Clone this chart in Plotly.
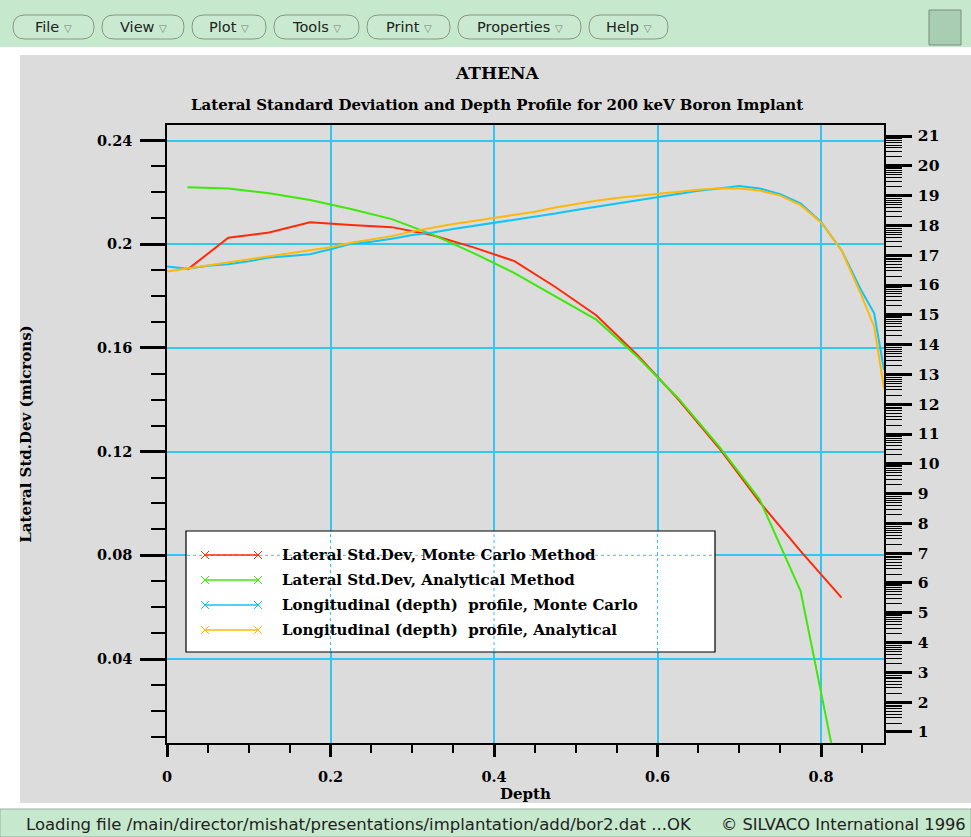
import math
import plotly.graph_objects as go

# ---------------- data ----------------
depth_lateral = [0.025, 0.075, 0.125, 0.175, 0.225, 0.275, 0.325, 0.375, 0.425,
                 0.475, 0.525, 0.575, 0.625, 0.675, 0.725, 0.775, 0.825]
lateral_mc = [0.1902, 0.2025, 0.2045, 0.2085, 0.2074, 0.2066, 0.2035, 0.1988, 0.1935,
              0.1835, 0.1726, 0.1574, 0.1403, 0.1215, 0.1005, 0.0816, 0.0637]
lateral_an = [0.2220, 0.2215, 0.2197, 0.2171, 0.2136, 0.2097, 0.2037, 0.1966, 0.1889,
              0.1800, 0.1709, 0.1567, 0.1407, 0.1221, 0.1015, 0.0662, -0.012]

depth_long = [0.0, 0.025, 0.05, 0.075, 0.1, 0.125, 0.15, 0.175, 0.2, 0.225, 0.25,
              0.275, 0.3, 0.325, 0.35, 0.375, 0.4, 0.425, 0.45, 0.475, 0.5, 0.525,
              0.55, 0.575, 0.6, 0.625, 0.65, 0.675, 0.7, 0.725, 0.75, 0.775, 0.8,
              0.825, 0.85, 0.865, 0.877]
long_mc = [16.62, 16.55, 16.65, 16.70, 16.80, 16.92, 16.97, 17.03, 17.20, 17.38, 17.45,
           17.55, 17.68, 17.76, 17.88, 17.98, 18.08, 18.20, 18.30, 18.40, 18.52, 18.63,
           18.73, 18.83, 18.95, 19.07, 19.16, 19.24, 19.32, 19.24, 19.05, 18.74, 18.12,
           17.17, 15.78, 15.05, 13.15]
long_an = [16.45, 16.55, 16.65, 16.77, 16.87, 16.96, 17.06, 17.17, 17.27, 17.42, 17.53,
           17.64, 17.80, 17.93, 18.05, 18.15, 18.25, 18.35, 18.46, 18.60, 18.72, 18.83,
           18.92, 18.99, 19.07, 19.14, 19.20, 19.25, 19.24, 19.17, 19.00, 18.68, 18.10,
           17.17, 15.61, 14.60, 12.53]

series_names = ["Lateral Std.Dev, Monte Carlo Method",
                "Lateral Std.Dev, Analytical Method",
                "Longitudinal (depth)  profile, Monte Carlo",
                "Longitudinal (depth)  profile, Analytical"]
series_colors = ["#ff2a0a", "#3ee80a", "#10c4f4", "#ffb80a"]

x_range = [0, 0.877]
x_ticks = [0, 0.2, 0.4, 0.6, 0.8]
x_ticktext = ["0", "0.2", "0.4", "0.6", "0.8"]
left_range = [0.0076, 0.246]
left_ticks = [0.04, 0.08, 0.12, 0.16, 0.2, 0.24]
left_ticktext = ["0.04", "0.08", "0.12", "0.16", "0.2", "0.24"]
right_range = [0.63, 21.37]
right_major = list(range(1, 22))
right_minor = [n + math.log10(k) for n in range(1, 21) for k in range(2, 10)]

# ---------------- geometry helpers (pixels -> paper) ----------------
W, H = 971, 837
L, R, T, B = 167, 884, 125, 743
def PX(px):
    return (px - L) / (R - L)
def PY(py):
    return (B - py) / (B - T)

SERIF = "DejaVu Serif"
SANS = "DejaVu Sans"
GRID = "#33c6f4"

fig = go.Figure()
fig.add_trace(go.Scatter(x=depth_lateral, y=lateral_mc, mode="lines", name=series_names[0],
                         line=dict(color=series_colors[0], width=2), yaxis="y"))
fig.add_trace(go.Scatter(x=depth_lateral, y=lateral_an, mode="lines", name=series_names[1],
                         line=dict(color=series_colors[1], width=2), yaxis="y"))
fig.add_trace(go.Scatter(x=depth_long, y=long_mc, mode="lines", name=series_names[2],
                         line=dict(color=series_colors[2], width=2), yaxis="y2"))
fig.add_trace(go.Scatter(x=depth_long, y=long_an, mode="lines", name=series_names[3],
                         line=dict(color=series_colors[3], width=2), yaxis="y2"))

tickfont = dict(family=SERIF, size=14.5, color="black", weight="bold")

shapes = []
annotations = []

# background panels
shapes.append(dict(type="rect", xref="paper", yref="paper", x0=PX(0), x1=PX(W), y0=PY(0), y1=PY(47),
                   fillcolor="#c6e8cc", line=dict(width=0), layer="below"))
shapes.append(dict(type="rect", xref="paper", yref="paper", x0=PX(20), x1=PX(W), y0=PY(55), y1=PY(803),
                   fillcolor="#dcdcdc", line=dict(width=0), layer="below"))
shapes.append(dict(type="rect", xref="paper", yref="paper", x0=PX(0), x1=PX(W), y0=PY(809), y1=PY(H),
                   fillcolor="#c6e8cc", line=dict(color="#9ab0a0", width=1), layer="below"))

# menu buttons
def pill(x0, y0, x1, y1):
    r = (y1 - y0) / 2
    return (f"M {PX(x0 + r)},{PY(y0)} L {PX(x1 - r)},{PY(y0)} "
            f"Q {PX(x1)},{PY(y0)} {PX(x1)},{PY(y0 + r)} "
            f"Q {PX(x1)},{PY(y1)} {PX(x1 - r)},{PY(y1)} "
            f"L {PX(x0 + r)},{PY(y1)} "
            f"Q {PX(x0)},{PY(y1)} {PX(x0)},{PY(y0 + r)} "
            f"Q {PX(x0)},{PY(y0)} {PX(x0 + r)},{PY(y0)} Z")

menu_items = ["File", "View", "Plot", "Tools", "Print", "Properties", "Help"]
menu_x = [(13, 94), (102, 184), (192, 266), (274, 359), (367, 450), (458, 581), (589, 668)]
for label, (x0, x1) in zip(menu_items, menu_x):
    shapes.append(dict(type="path", xref="paper", yref="paper", path=pill(x0, 15, x1, 39),
                       fillcolor="#c9ead0", line=dict(color="#8a968c", width=1), layer="below"))
    annotations.append(dict(xref="paper", yref="paper", x=PX((x0 + x1) / 2), y=PY(27),
                            text=f"{label} <span style='font-size:10px;color:#777'>▽</span>",
                            showarrow=False, font=dict(family=SANS, size=14.5, color="#222"),
                            xanchor="center", yanchor="middle"))
shapes.append(dict(type="rect", xref="paper", yref="paper", x0=PX(929), x1=PX(961), y0=PY(10), y1=PY(45),
                   fillcolor="#a9cdb2", line=dict(color="#7d8c80", width=1), layer="below"))

# status bar
annotations.append(dict(xref="paper", yref="paper", x=PX(24), y=PY(824),
                        text="Loading file /main/director/mishat/presentations/implantation/add/bor2.dat ...OK",
                        showarrow=False, xanchor="left", yanchor="middle",
                        font=dict(family=SANS, size=16.5, color="#222")))
annotations.append(dict(xref="paper", yref="paper", x=PX(968), y=PY(824),
                        text="© SILVACO International 1996",
                        showarrow=False, xanchor="right", yanchor="middle",
                        font=dict(family=SANS, size=16.3, color="#222")))

# titles
annotations.append(dict(xref="paper", yref="paper", x=PX(497), y=PY(73), text="ATHENA",
                        showarrow=False, xanchor="center", yanchor="middle",
                        font=dict(family=SERIF, size=17, color="black", weight="bold")))
annotations.append(dict(xref="paper", yref="paper", x=PX(497), y=PY(105),
                        text="Lateral Standard Deviation and Depth Profile for 200 keV Boron Implant",
                        showarrow=False, xanchor="center", yanchor="middle",
                        font=dict(family=SERIF, size=15, color="black", weight="bold")))

# custom legend box
lx0, lx1, ly0, ly1 = 186, 715, 531, 652
shapes.append(dict(type="rect", xref="paper", yref="paper", x0=PX(lx0), x1=PX(lx1), y0=PY(ly1), y1=PY(ly0),
                   fillcolor="white", line=dict(color="black", width=1.2), layer="above"))
# dotted grid through the legend box
for gx in x_ticks:
    lo = x_range[0] + PX(lx0) * (x_range[1] - x_range[0])
    hi = x_range[0] + PX(lx1) * (x_range[1] - x_range[0])
    if lo < gx < hi:
        shapes.append(dict(type="line", xref="x", yref="paper", x0=gx, x1=gx, y0=PY(ly1 - 1), y1=PY(ly0 + 1),
                           line=dict(color=GRID, width=1, dash="dot"), layer="above"))
for gy in left_ticks:
    lo = left_range[0] + PY(ly1) * (left_range[1] - left_range[0])
    hi = left_range[0] + PY(ly0) * (left_range[1] - left_range[0])
    if lo < gy < hi:
        shapes.append(dict(type="line", xref="paper", yref="y", x0=PX(lx0 + 1), x1=PX(lx1 - 1), y0=gy, y1=gy,
                           line=dict(color=GRID, width=1, dash="dot"), layer="above"))

item_y = [555, 580, 605, 630]
for name, color, yc in zip(series_names, series_colors, item_y):
    shapes.append(dict(type="line", xref="paper", yref="paper", x0=PX(205), x1=PX(258), y0=PY(yc), y1=PY(yc),
                       line=dict(color=color, width=1.5), layer="above"))
    for cx in (205, 258):
        for dy in (-4, 4):
            shapes.append(dict(type="line", xref="paper", yref="paper", x0=PX(cx - 4), x1=PX(cx + 4),
                               y0=PY(yc - dy), y1=PY(yc + dy), line=dict(color=color, width=1), layer="above"))
    annotations.append(dict(xref="paper", yref="paper", x=PX(280), y=PY(yc), text=name,
                            showarrow=False, xanchor="left", yanchor="middle",
                            font=dict(family=SERIF, size=15, color="black", weight="bold")))

fig.update_layout(
    width=W, height=H,
    margin=dict(l=L, r=W - R, t=T, b=H - B, autoexpand=False),
    paper_bgcolor="white",
    plot_bgcolor="white",
    showlegend=False,
    shapes=shapes,
    annotations=annotations,
    xaxis=dict(
        range=x_range, tickmode="array", tickvals=x_ticks, ticktext=x_ticktext,
        ticks="outside", ticklen=12, tickwidth=2.5, tickcolor="black",
        ticklabelstandoff=8, tickfont=tickfont,
        showgrid=True, gridcolor=GRID, gridwidth=1.5, zeroline=False,
        showline=True, linecolor="black", linewidth=1.5, mirror=True,
        minor=dict(tickmode="linear", tick0=0, dtick=0.05, ticks="outside", ticklen=8,
                   tickwidth=1.5, tickcolor="black", showgrid=False),
        title=dict(text="Depth", standoff=0,
                   font=dict(family=SERIF, size=15, color="black", weight="bold")),
    ),
    yaxis=dict(
        range=left_range, tickmode="array", tickvals=left_ticks, ticktext=left_ticktext,
        ticks="outside", ticklen=25, tickwidth=2.5, tickcolor="black",
        ticklabelstandoff=5, tickfont=tickfont,
        showgrid=True, gridcolor=GRID, gridwidth=1.5, zeroline=False,
        showline=True, linecolor="black", linewidth=1.5, mirror=True,
        minor=dict(tickmode="linear", tick0=0, dtick=0.01, ticks="outside", ticklen=14,
                   tickwidth=1.5, tickcolor="black", showgrid=False),
        title=dict(text="Lateral Std.Dev (microns)", standoff=62,
                   font=dict(family=SERIF, size=15, color="black", weight="bold")),
    ),
    yaxis2=dict(
        range=right_range, overlaying="y", side="right", anchor="x",
        tickmode="array", tickvals=right_major, ticktext=[str(v) for v in right_major],
        ticks="outside", ticklen=26, tickwidth=2.5, tickcolor="black",
        ticklabelstandoff=3, tickfont=dict(family=SERIF, size=15.5, color="black", weight="bold"),
        showgrid=False, zeroline=False, showline=True, linecolor="black", linewidth=1.5,
        minor=dict(tickmode="array", tickvals=right_minor, ticks="outside", ticklen=16,
                   tickwidth=1, tickcolor="black", showgrid=False),
    ),
)

fig.write_html("out.html", config={"displayModeBar": False},
               post_script="document.body.style.margin='0';")
